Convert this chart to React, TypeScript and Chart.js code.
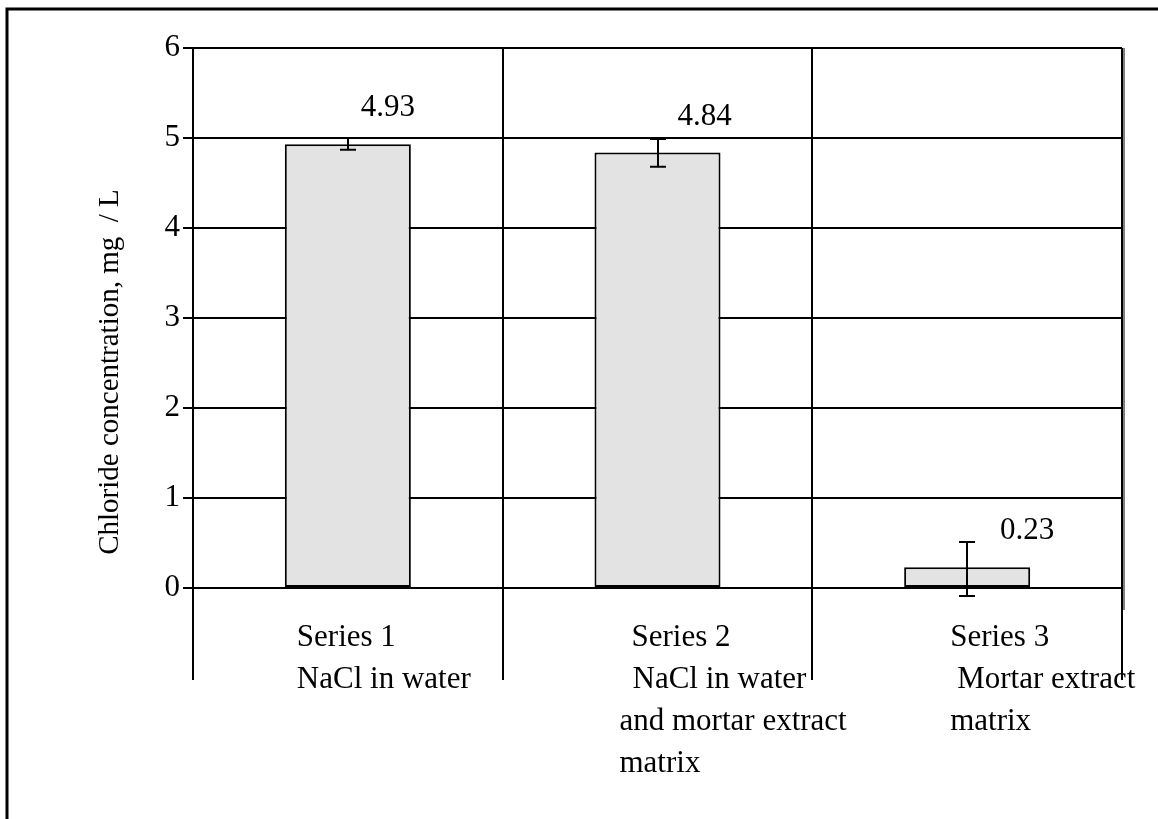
import React, { useEffect, useRef } from "react";
import { Chart, registerables } from "chart.js";

Chart.register(...registerables);

// ---- data ----
const categories = ["Series 1", "Series 2", "Series 3"];
const categoryLines: string[][] = [
  ["Series 1", "NaCl in water"],
  ["Series 2", "NaCl in water", "and mortar extract", "matrix"],
  ["Series 3", "Mortar extract", "matrix"],
];
const values = [4.93, 4.84, 0.23];
const valueLabels = ["4.93", "4.84", "0.23"];
const errorHigh = [5.0, 4.99, 0.51];
const errorLow = [4.87, 4.68, -0.09];
const yMin = 0;
const yMax = 6;
const yStep = 1;
const yTitle = "Chloride concentration, mg  / L";

const FONT = "'Liberation Serif', 'Times New Roman', serif";

// layout offsets for the category text (relative to category centre)
const LINE_DX = [
  [-51, -51],
  [-26, -25, -38, -38],
  [-17, -10, -17],
];
const VALUE_DX = [40, 47, 60];

const decorPlugin = {
  id: "decor",
  beforeDraw(chart: any) {
    const ctx = chart.ctx;
    ctx.save();
    ctx.fillStyle = "#ffffff";
    ctx.fillRect(0, 0, chart.width, chart.height);
    ctx.restore();
  },
  afterDatasetsDraw(chart: any) {
    const ctx = chart.ctx;
    const x = chart.scales.x;
    const y = chart.scales.y;
    const area = chart.chartArea;
    ctx.save();

    // outer frame (top + left)
    ctx.strokeStyle = "#000";
    ctx.lineWidth = 3;
    ctx.beginPath();
    ctx.moveTo(7, 819);
    ctx.lineTo(7, 9);
    ctx.lineTo(1158, 9);
    ctx.stroke();

    // right edge shading
    ctx.strokeStyle = "#808080";
    ctx.lineWidth = 2;
    ctx.beginPath();
    ctx.moveTo(area.right + 2, area.top);
    ctx.lineTo(area.right + 2, area.bottom + 22);
    ctx.stroke();

    // error bars
    ctx.strokeStyle = "#000";
    ctx.lineWidth = 2;
    for (let i = 0; i < categories.length; i++) {
      const cx = Math.round(x.getPixelForValue(i));
      const yh = y.getPixelForValue(errorHigh[i]);
      const yl = y.getPixelForValue(errorLow[i]);
      ctx.beginPath();
      ctx.moveTo(cx, yh);
      ctx.lineTo(cx, yl);
      ctx.moveTo(cx - 8, yh);
      ctx.lineTo(cx + 8, yh);
      ctx.moveTo(cx - 8, yl);
      ctx.lineTo(cx + 8, yl);
      ctx.stroke();
    }

    // value labels
    ctx.fillStyle = "#000";
    ctx.font = `31px ${FONT}`;
    ctx.textAlign = "center";
    ctx.textBaseline = "middle";
    for (let i = 0; i < categories.length; i++) {
      const cx = x.getPixelForValue(i);
      const top = y.getPixelForValue(values[i]);
      ctx.fillText(valueLabels[i], cx + VALUE_DX[i], top - 36);
    }

    // category labels
    ctx.font = `31px ${FONT}`;
    ctx.textAlign = "left";
    ctx.textBaseline = "alphabetic";
    for (let i = 0; i < categoryLines.length; i++) {
      const cx = x.getPixelForValue(i);
      categoryLines[i].forEach((line, k) => {
        ctx.fillText(line, cx + LINE_DX[i][k], area.bottom + 58 + 42 * k);
      });
    }

    // y axis title
    ctx.font = `29px ${FONT}`;
    ctx.textAlign = "center";
    ctx.textBaseline = "middle";
    ctx.translate(110, (area.top + area.bottom) / 2 + 54);
    ctx.rotate(-Math.PI / 2);
    ctx.fillText(yTitle, 0, 0);
    ctx.restore();
  },
};

export default function App() {
  const ref = useRef<HTMLCanvasElement | null>(null);
  useEffect(() => {
    if (!ref.current) return;
    const chart = new Chart(ref.current, {
      type: "bar",
      data: {
        labels: categories,
        datasets: [
          {
            data: values,
            backgroundColor: "#e3e3e3",
            borderColor: "#000",
            borderWidth: 2,
            borderSkipped: false,
            barPercentage: 1,
            categoryPercentage: 0.407,
          },
        ],
      },
      options: {
        responsive: false,
        animation: false,
        devicePixelRatio: 1,
        layout: { padding: { left: 0, top: 48, right: 36, bottom: 0 } },
        plugins: {
          legend: { display: false },
          tooltip: { enabled: false },
        },
        scales: {
          x: {
            offset: true,
            grid: {
              offset: true,
              color: "#000",
              lineWidth: 2,
              tickLength: 92,
              drawTicks: true,
            },
            border: { display: true, color: "#000", width: 2 },
            ticks: { display: false },
            afterFit(scale: any) {
              scale.height = 231;
            },
          },
          y: {
            min: yMin,
            max: yMax,
            ticks: {
              stepSize: yStep,
              color: "#000",
              padding: 3,
              font: { family: FONT, size: 31 },
            },
            grid: {
              color: "#000",
              lineWidth: 2,
              tickLength: 10,
              drawTicks: true,
            },
            border: { display: true, color: "#000", width: 2 },
            afterFit(scale: any) {
              scale.width = 193;
            },
          },
        },
      },
      plugins: [decorPlugin],
    });
    return () => chart.destroy();
  }, []);

  return (
    <div style={{ position: "absolute", left: 0, top: 0, width: 1158, height: 819 }}>
      <canvas ref={ref} width={1158} height={819} />
    </div>
  );
}
